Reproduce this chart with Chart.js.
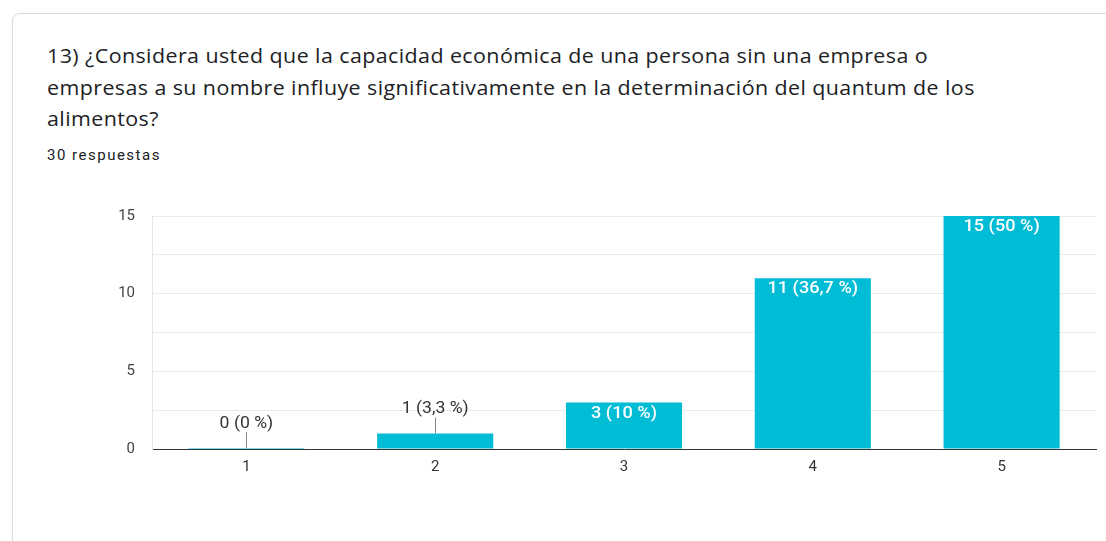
<!DOCTYPE html>
<html>
<head>
<meta charset="utf-8">
<script src="https://cdn.jsdelivr.net/npm/chart.js@4"></script>
<style>
  body { margin: 0; background: #fff; width: 1106px; height: 541px; overflow: hidden; position: relative; font-family: Roboto, Arial, sans-serif; }
  .card { position: absolute; left: 12px; top: 13px; width: 1120px; height: 560px; border: 1px solid #dadce0; border-radius: 8px; box-shadow: 0 1px 2px rgba(0,0,0,0.08); background: #fff; }
  .title { position: absolute; left: 47px; top: 40px; font-family: "Open Sans", Roboto, sans-serif; font-size: 20px; line-height: 31.5px; color: #202124; letter-spacing: 0.4px; white-space: nowrap; transform: scaleX(1.07); transform-origin: left top; }
  .count { position: absolute; left: 47px; top: 146px; font-size: 15px; letter-spacing: 1.5px; color: #202124; }
  #wrap { position: absolute; left: 0; top: 190px; width: 1106px; height: 300px; }
</style>
</head>
<body>
<div class="card"></div>
<div class="title">13) ¿Considera usted que la capacidad económica de una persona sin una empresa o<br>empresas a su nombre influye significativamente en la determinación del quantum de los<br>alimentos?</div>
<div class="count">30 respuestas</div>
<div id="wrap"><canvas id="chart"></canvas></div>
<script>
// answers on the 1..5 scale
var categories = ['1', '2', '3', '4', '5'];
var responses = [0, 1, 3, 11, 15];
var yTicks = [0, 5, 10, 15];

var total = responses.reduce(function (a, b) { return a + b; }, 0);

function pctText(v) {
    var p = Math.round(v / total * 1000) / 10;
    return v + ' (' + String(p).replace('.', ',') + ' %)';
}

// text a bit wider than the font gives, like the screenshot
function wideText(ctx, txt, x, y) {
    ctx.save();
    ctx.translate(x, y);
    ctx.scale(1.1, 1);
    ctx.fillText(txt, 0, 0);
    ctx.restore();
}

// draws "n (p %)" labels: inside tall bars, above short ones with a small leader line
var barLabels = {
    id: 'barLabels',
    afterDatasetsDraw: function (chart) {
        var ctx = chart.ctx;
        var meta = chart.getDatasetMeta(0);
        ctx.save();
        ctx.textAlign = 'center';
        ctx.textBaseline = 'middle';
        meta.data.forEach(function (bar, i) {
            var v = responses[i];
            var txt = pctText(v);
            var h = bar.base - bar.y;
            if (h > 24) {
                ctx.fillStyle = '#ffffff';
                ctx.font = '500 16.5px Roboto, Arial, sans-serif';
                wideText(ctx, txt, bar.x, bar.y + 11);
            } else {
                ctx.strokeStyle = '#888';
                ctx.lineWidth = 1;
                ctx.beginPath();
                ctx.moveTo(Math.round(bar.x) + 0.5, bar.y);
                ctx.lineTo(Math.round(bar.x) + 0.5, bar.y - 16);
                ctx.stroke();
                ctx.fillStyle = '#333';
                ctx.font = '16px Roboto, Arial, sans-serif';
                wideText(ctx, txt, bar.x, bar.y - 24);
            }
        });
        ctx.restore();
    }
};

var chart = new Chart(document.getElementById('chart').getContext('2d'), {
    type: 'bar',
    data: {
        labels: categories,
        datasets: [{
            data: responses,
            backgroundColor: '#00bcd4',
            borderWidth: 0,
            minBarLength: 1,
            categoryPercentage: 1,
            barPercentage: 0.615
        }]
    },
    options: {
        responsive: true,
        maintainAspectRatio: false,
        animation: false,
        layout: { padding: { top: 21, right: 10, left: 0, bottom: 0 } },
        plugins: {
            legend: { display: false },
            tooltip: { enabled: false }
        },
        scales: {
            x: {
                grid: { display: false, drawTicks: false },
                border: { color: '#333', width: 1 },
                ticks: { color: '#333', font: { family: 'Roboto, Arial, sans-serif', size: 15 }, padding: 9 },
                afterFit: function (s) { s.height = 41; }
            },
            y: {
                min: 0,
                max: 15,
                grid: { color: '#ebebeb', drawTicks: false },
                border: { color: '#e6e6e6' },
                ticks: {
                    stepSize: 2.5,
                    padding: 17,
                    color: '#444',
                    font: { family: 'Roboto, Arial, sans-serif', size: 15 },
                    callback: function (v) { return yTicks.indexOf(v) >= 0 ? v : ''; }
                },
                afterFit: function (s) { s.width = 152; }
            }
        }
    },
    plugins: [barLabels]
});
</script>
</body>
</html>
